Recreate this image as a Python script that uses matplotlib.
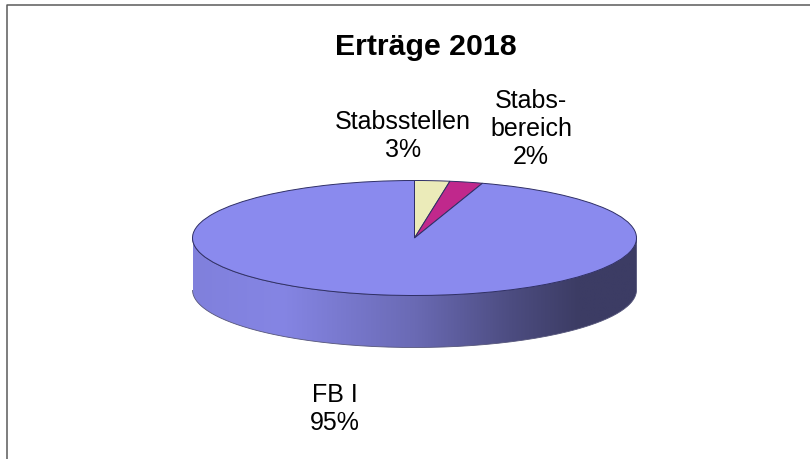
import numpy as np
import matplotlib
matplotlib.use("Agg")
import matplotlib.pyplot as plt
from matplotlib.colors import LinearSegmentedColormap
from matplotlib.lines import Line2D
from matplotlib.patches import PathPatch
from matplotlib.path import Path

plt.rcParams['font.family'] = ['Liberation Sans', 'DejaVu Sans']

# Erträge 2018
bereiche = ["Stabsstellen", "Stabs-\nbereich", "FB I"]
anteile = [2.55, 2.4, 95.05]
farben = ["#EBEBB9", "#C0288C", "#8A8AEE"]
label_pos = [(403, 136), (531, 129), (335, 409)]

W, H = 810, 460
cx, cy, rx, ry, tiefe = 414.5, 239, 222, 57.5, 52

fig = plt.figure(figsize=(W / 100, H / 100), dpi=100)
ax = fig.add_axes([0, 0, 1, 1])

wedges, _ = ax.pie(anteile, colors=farben, startangle=90, counterclock=False,
                   wedgeprops=dict(edgecolor="#2F2F66", linewidth=0.7))
for w in wedges:
    w.set_zorder(5)

# Seitenwand der Scheibe mit Farbverlauf
d = tiefe / ry
t = np.linspace(np.pi, 2 * np.pi, 200)
rand = np.concatenate([np.cos(t), np.cos(t[::-1])])
rand_y = np.concatenate([np.sin(t) - d, np.sin(t[::-1])])
seite = Path(np.column_stack([rand, rand_y]))
verlauf = LinearSegmentedColormap.from_list(
    "seite", [(0, "#8080DC"), (0.2, "#8585E4"), (0.5, "#6A6AB4"),
              (0.72, "#4C4C80"), (0.87, "#3C3C64"), (1, "#3C3C64")])
bild = ax.imshow(np.linspace(0, 1, 256).reshape(1, -1), cmap=verlauf, aspect='auto',
                 extent=(-1, 1, -1 - d, 1), zorder=2)
patch = PathPatch(seite, facecolor='none', edgecolor='#55557A', linewidth=0.6, zorder=3)
ax.add_patch(patch)
bild.set_clip_path(patch)

# Einheitskreis auf die Ellipse im Bild abbilden
ax.set_aspect('auto')
ax.set_xlim((0 - cx) / rx, (W - cx) / rx)
ax.set_ylim((cy - H) / ry, cy / ry)
ax.axis('off')

# Rahmen: nur links und oben sichtbar
fig.add_artist(Line2D([6.5 / W, 6.5 / W, 1], [0, 1 - 5.5 / H, 1 - 5.5 / H],
                      transform=fig.transFigure, color="#5A5A5A", linewidth=1.1))

fig.text(426 / W, 1 - 47 / H, "Erträge 2018", fontsize=21.8, fontweight='bold',
         ha='center', va='center', color='black')

for b, a, (x, y) in zip(bereiche, anteile, label_pos):
    fig.text(x / W, 1 - y / H, f"{b}\n{a:.0f}%", fontsize=18, ha='center', va='center',
             linespacing=1.2, color='black')

fig.savefig("out.png", dpi=100)
